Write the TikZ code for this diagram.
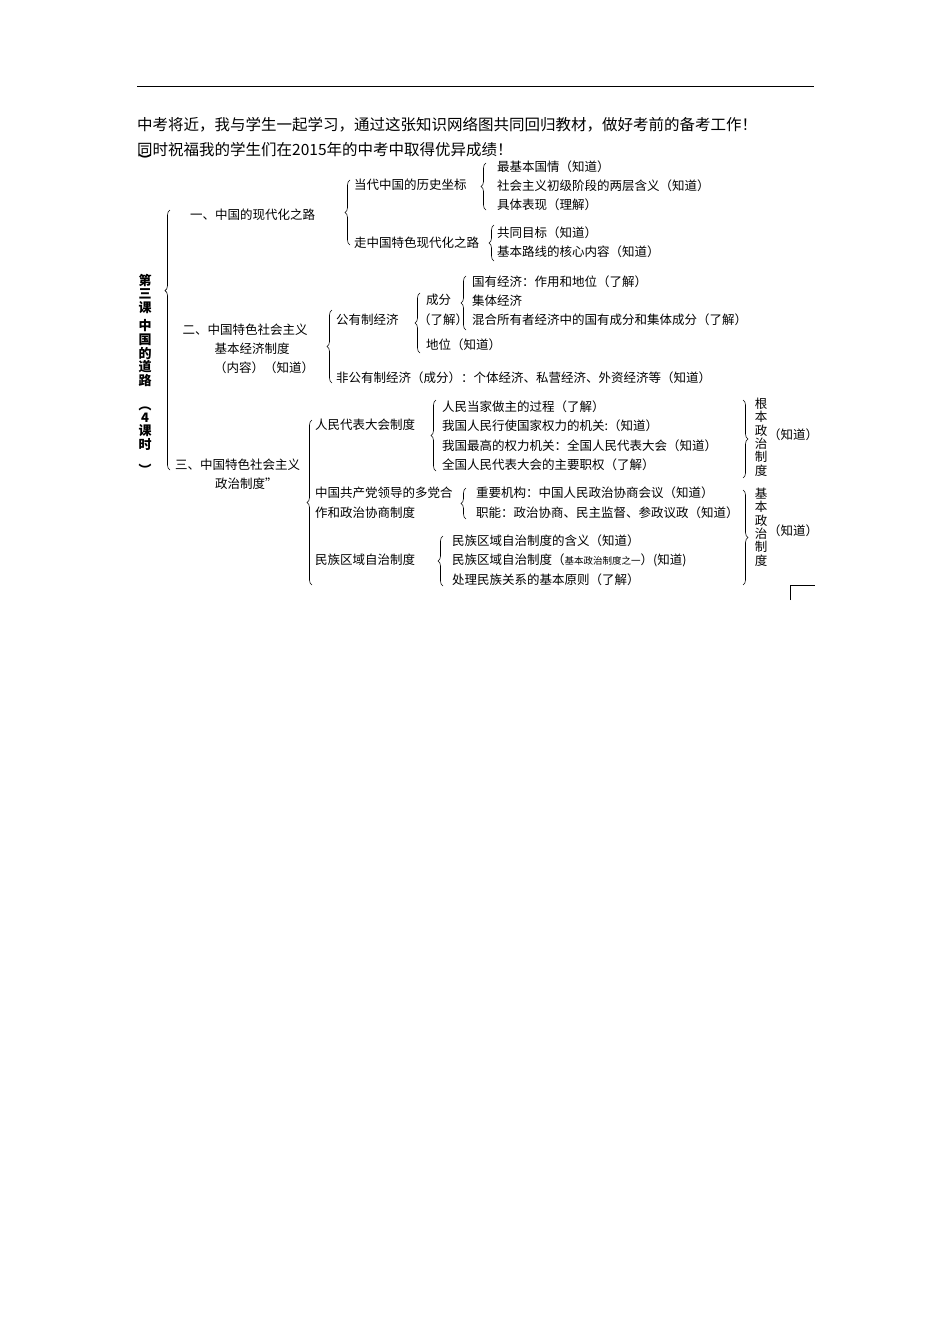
\documentclass[tikz,border=0pt]{standalone}
\usepackage{fontspec}
\setmainfont{Noto Sans CJK SC}
\usetikzlibrary{decorations.pathreplacing}
\tikzset{
 t/.style={anchor=west,inner sep=0pt,font=\fontsize{12.5}{14}\selectfont},
 hd/.style={anchor=west,inner sep=0pt,font=\fontsize{15.5}{17}\selectfont},
 br/.style={decorate,decoration={brace,amplitude=5pt},line width=0.6pt},
}
\begin{document}
\begin{tikzpicture}[x=1pt,y=-1pt]
\useasboundingbox (0,0) rectangle (950,1344);
\draw[line width=0.8pt] (137,86) -- (814,86);
\node[hd] (h1) at (137,125) {中考将近，我与学生一起学习，通过这张知识网络图共同回归教材，做好考前的备考工作！};
\node[hd] (h2) at (137,150) {同时祝福我的学生们在2015年的中考中取得优异成绩！};
\node[inner sep=0pt,font=\fontsize{13}{13}\selectfont\bfseries] (p0) at (145,160) {\rotatebox{-90}{）}};
% title
\node[inner sep=0pt,align=center,font=\fontsize{13}{13.6}\bfseries\selectfont] (title) at (145,375)
 {第\\三\\课\\[5pt]中\\国\\的\\道\\路\\\rotatebox{-90}{（}\\4\\课\\时\\\rotatebox{-90}{）}};
\draw[br,decoration={aspect=0.69}] (170,470) -- (170,210);
% section 1
\node[t] (s1) at (190,215) {一、中国的现代化之路};
\draw[br] (350,245) -- (350,180);
\node[t] (a1) at (354,185) {当代中国的历史坐标};
\node[t] (a2) at (354,243) {走中国特色现代化之路};
\draw[br] (486,210) -- (486,163);
\node[t] (a11) at (497,167) {最基本国情（知道）};
\node[t] (a12) at (497,186) {社会主义初级阶段的两层含义（知道）};
\node[t] (a13) at (497,205) {具体表现（理解）};
\draw[br] (494,261) -- (494,225);
\node[t] (a21) at (497,233) {共同目标（知道）};
\node[t] (a22) at (497,252) {基本路线的核心内容（知道）};
% section 2
\node[t,anchor=center] (s2a) at (245,330) {二、中国特色社会主义};
\node[t,anchor=center] (s2b) at (252,349) {基本经济制度};
\node[t,anchor=center] (s2c) at (264,368) {（内容）（知道）};
\draw[br] (332,383) -- (332,310);
\node[t] (b1) at (336,320) {公有制经济};
\node[t] (b2) at (336,378) {非公有制经济（成分）：个体经济、私营经济、外资经济等（知道）};
\draw[br] (420,353) -- (420,293);
\node[t] (c1) at (426,300) {成分};
\node[t] (c1b) at (418,320) {（了解）};
\node[t] (c2) at (426,345) {地位（知道）};
\draw[br] (466,330) -- (466,276);
\node[t] (d1) at (472,282) {国有经济：作用和地位（了解）};
\node[t] (d2) at (472,301) {集体经济};
\node[t] (d3) at (472,320) {混合所有者经济中的国有成分和集体成分（了解）};
% section 3
\node[t] (s3a) at (175,465) {三、中国特色社会主义};
\node[t] (s3b) at (215,484) {政治制度”};
\draw[br] (312,585) -- (312,420);
\node[t] (e1) at (315,425) {人民代表大会制度};
\node[t] (e2a) at (315,493) {中国共产党领导的多党合};
\node[t] (e2b) at (315,513) {作和政治协商制度};
\node[t] (e3) at (315,560) {民族区域自治制度};
\draw[br] (436,471) -- (436,400);
\node[t] (f1) at (442,407) {人民当家做主的过程（了解）};
\node[t] (f2) at (442,426) {我国人民行使国家权力的机关:（知道）};
\node[t] (f3) at (442,446) {我国最高的权力机关：全国人民代表大会（知道）};
\node[t] (f4) at (442,465) {全国人民代表大会的主要职权（了解）};
\draw[br] (466,519) -- (466,488);
\node[t] (g1) at (476,493) {重要机构：中国人民政治协商会议（知道）};
\node[t] (g2) at (476,513) {职能：政治协商、民主监督、参政议政（知道）};
\draw[br] (443,586) -- (443,536);
\node[t] (k1) at (452,541) {民族区域自治制度的含义（知道）};
\node[t] (k2) at (452,560) {民族区域自治制度（{\fontsize{9.5}{10}\selectfont 基本政治制度之一}）(知道)};
\node[t] (k3) at (452,580) {处理民族关系的基本原则（了解）};
% right braces
\draw[br] (743,400) -- (743,478);
\node[inner sep=0pt,align=center,font=\fontsize{12.5}{13.3}\selectfont] (r1) at (761,437) {根\\本\\政\\治\\制\\度};
\node[t] (r1k) at (768,435) {（知道）};
\draw[br] (743,490) -- (743,585);
\node[inner sep=0pt,align=center,font=\fontsize{12.5}{13.3}\selectfont] (r2) at (761,527) {基\\本\\政\\治\\制\\度};
\node[t] (r2k) at (768,531) {（知道）};
\draw[line width=0.5pt] (790,600) -- (790,585) -- (815,585);
\end{tikzpicture}
\end{document}
